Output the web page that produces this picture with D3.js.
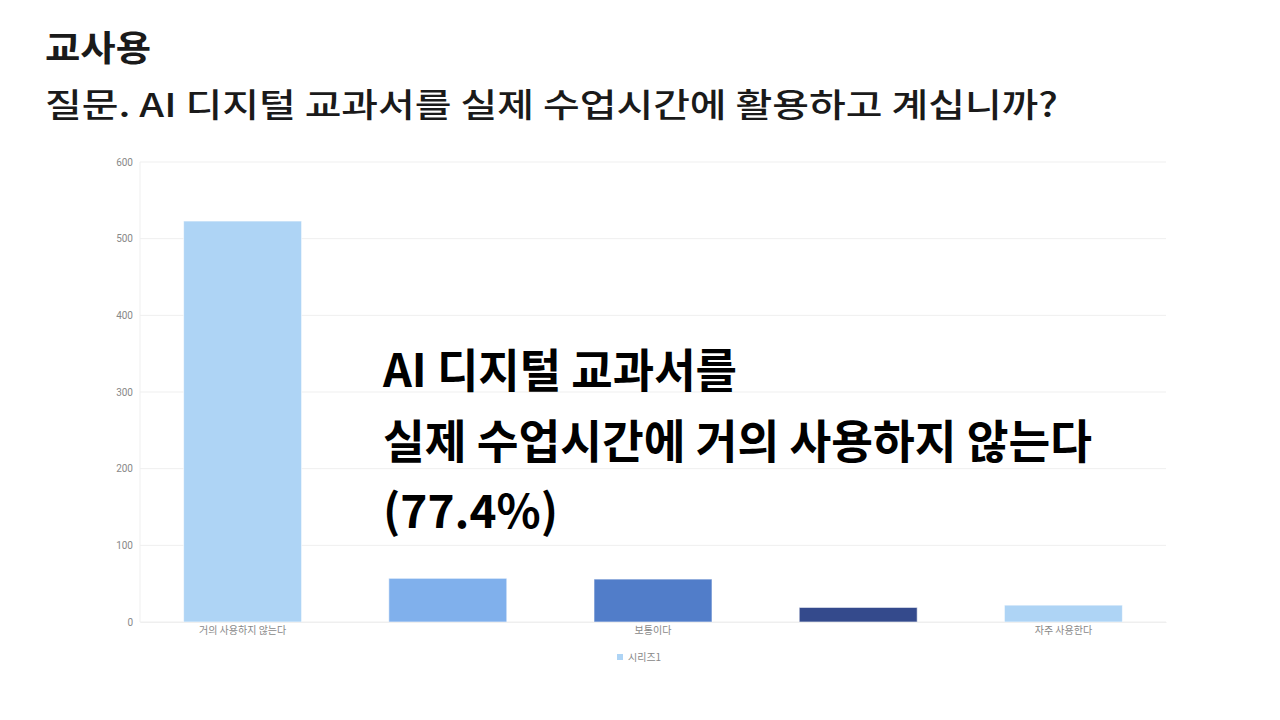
<!DOCTYPE html>
<html><head><meta charset="utf-8">
<script src="https://cdn.jsdelivr.net/npm/d3@7"></script>
<style>body{margin:0;background:#fff;}svg{display:block;}</style>
</head><body>
<svg id="c" width="1280" height="720"></svg>
<script>
const categories = ["거의 사용하지 않는다","사용하지 않는 편이다","보통이다","사용하는 편이다","자주 사용한다"];
const values = [523, 57, 56, 19, 22];
const barColors = ["#aed4f5","#80b0ec","#517dc9","#344a8c","#aed4f5"];
const yTicks = [0,100,200,300,400,500,600];
const seriesName = "시리즈1";
const titleTop = "교사용";
const titleMain = "질문. AI 디지털 교과서를 실제 수업시간에 활용하고 계십니까?";
const noteLines = ["AI 디지털 교과서를","실제 수업시간에 거의 사용하지 않는다","(77.4%)"];

const svg = d3.select("#c");
const m = {l:140, r:114, t:162, b:98};
const W = 1280, H = 720;
const x = d3.scaleBand().domain(categories).range([m.l, W-m.r]).paddingInner(0.425).paddingOuter(0.2125);
const y = d3.scaleLinear().domain([0,600]).range([H-m.b, m.t]);

// grid
svg.append("g").selectAll("line").data(yTicks).join("line")
  .attr("x1", m.l).attr("x2", W-m.r)
  .attr("y1", d=>y(d)).attr("y2", d=>y(d))
  .attr("stroke", "#efefef").attr("stroke-width", 1);
svg.append("line").attr("x1", m.l).attr("x2", m.l).attr("y1", m.t).attr("y2", H-m.b)
  .attr("stroke","#efefef");

// y axis
const ya = svg.append("g").attr("transform", `translate(${m.l},0)`)
  .call(d3.axisLeft(y).tickValues(yTicks).tickSize(0).tickPadding(7));
ya.select(".domain").remove();
ya.selectAll("text").attr("fill","#888").style("font-family","Roboto, 'Noto Sans', sans-serif").style("font-size","10px");

// bars
svg.append("g").selectAll("rect").data(values).join("rect")
  .attr("x", (d,i)=>x(categories[i]))
  .attr("width", x.bandwidth())
  .attr("y", d=>y(d))
  .attr("height", d=>y(0)-y(d))
  .attr("fill", (d,i)=>barColors[i])
  .attr("stroke", "rgba(255,255,255,0.6)").attr("stroke-width", 1);

// x axis
const xa = svg.append("g").attr("transform", `translate(0,${y(0)})`)
  .call(d3.axisBottom(x).tickSize(0).tickPadding(5).tickFormat((d,i)=> i%2===0 ? d : ""));
xa.select(".domain").attr("stroke","#efefef");
xa.selectAll("text").attr("fill","#888").style("font-family","'Noto Sans CJK KR', sans-serif").style("font-size","10px");

// legend
const lg = svg.append("g");
lg.append("rect").attr("x", 617).attr("y", 654).attr("width", 6).attr("height", 6).attr("fill", barColors[0]);
lg.append("text").attr("x", 628).attr("y", 660.5).text(seriesName)
  .attr("fill","#888").style("font-family","'Noto Sans CJK KR', sans-serif").style("font-size","10px");

// titles
svg.append("text").attr("x", 45).attr("y", 61).text(titleTop)
  .attr("fill","#1a1a1a").style("font-family","'Noto Sans CJK KR', sans-serif").style("font-weight","700").style("font-size","35px")
  .attr("textLength", 106).attr("lengthAdjust","spacingAndGlyphs");
svg.append("text").attr("x", 45).attr("y", 117).text(titleMain)
  .attr("fill","#1a1a1a").style("font-family","'Noto Sans CJK KR', sans-serif").style("font-weight","500").style("font-size","33px")
  .attr("textLength", 1013).attr("lengthAdjust","spacingAndGlyphs");

// annotation
const noteW = [354, 709, 175];
const noteY = [387, 458, 528];
svg.append("g").selectAll("text").data(noteLines).join("text")
  .attr("x", 383).attr("y", (d,i)=>noteY[i]).text(d=>d)
  .attr("fill","#000").style("font-family","'Noto Sans CJK KR', sans-serif").style("font-weight","700").style("font-size","46px")
  .attr("textLength", (d,i)=>noteW[i]).attr("lengthAdjust","spacingAndGlyphs");
</script>
</body></html>
